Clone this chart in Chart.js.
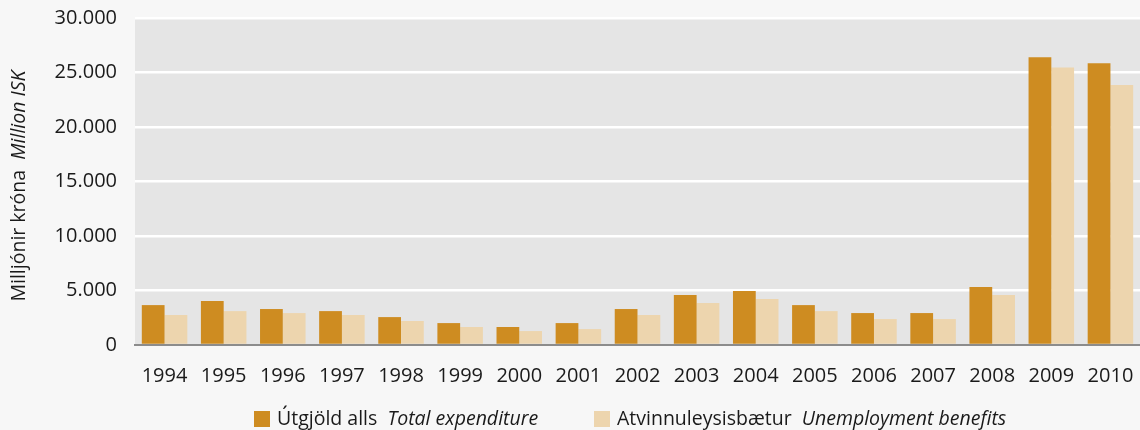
<!DOCTYPE html>
<html>
<head>
<meta charset="utf-8">
<script src="https://cdn.jsdelivr.net/npm/chart.js@4"></script>
<style>
  html, body { margin: 0; padding: 0; background: #f7f7f7; }
  #wrap { width: 1140px; height: 430px; position: relative; }
</style>
</head>
<body>
<div id="wrap"><canvas id="chart" width="1140" height="430"></canvas></div>
<script>
// Chart data
const years = ["1994", "1995", "1996", "1997", "1998", "1999", "2000", "2001", "2002",
  "2003", "2004", "2005", "2006", "2007", "2008", "2009", "2010"];
const totalExpenditure = [3660, 4030, 3300, 3110, 2560, 2010, 1650, 2010, 3300,
  4580, 4950, 3660, 2930, 2930, 5310, 26400, 25850];
const unemploymentBenefits = [2750, 3110, 2930, 2750, 2200, 1650, 1280, 1460, 2750,
  3850, 4210, 3110, 2380, 2380, 4580, 25470, 23850];
const yTicks = [0, 5000, 10000, 15000, 20000, 25000, 30000];

const FONT = "'Open Sans', 'Noto Sans', sans-serif";
const DARK = "#ce8c21";
const LIGHT = "#edd5ae";
const TEXT = "#1a1a1a";

// Format numbers with a period as thousands separator
function fmt(v) {
  return String(v).replace(/\B(?=(\d{3})+(?!\d))/g, ".");
}

// Grey plot background behind the bars
const plotBackground = {
  id: "plotBackground",
  beforeDraw(chart) {
    const { ctx, chartArea: a } = chart;
    ctx.save();
    ctx.fillStyle = "#e5e5e5";
    ctx.fillRect(a.left, a.top, a.right - a.left, a.bottom - a.top);
    ctx.restore();
  }
};

// Draw text pieces with mixed regular / italic style
function drawParts(ctx, parts, x, y) {
  parts.forEach(p => {
    ctx.font = (p.italic ? "italic " : "") + "19.5px " + FONT;
    ctx.fillText(p.text, x, y);
    x += ctx.measureText(p.text).width;
  });
  return x;
}

function partsWidth(ctx, parts) {
  let w = 0;
  parts.forEach(p => {
    ctx.font = (p.italic ? "italic " : "") + "19.5px " + FONT;
    w += ctx.measureText(p.text).width;
  });
  return w;
}

// Y axis title and legend, both with regular + italic text
const extraText = {
  id: "extraText",
  afterDraw(chart) {
    const ctx = chart.ctx;
    ctx.save();
    ctx.fillStyle = TEXT;
    ctx.textBaseline = "middle";

    // rotated axis title
    const title = [{ text: "Milljónir króna  " }, { text: "Million ISK", italic: true }];
    const tw = partsWidth(ctx, title);
    ctx.translate(19, 186);
    ctx.rotate(-Math.PI / 2);
    drawParts(ctx, title, -tw / 2, 0);
    ctx.setTransform(1, 0, 0, 1, 0, 0);

    // legend
    const items = [
      { color: DARK, x: 254, parts: [{ text: "Útgjöld alls  " }, { text: "Total expenditure", italic: true }] },
      { color: LIGHT, x: 594, parts: [{ text: "Atvinnuleysisbætur  " }, { text: "Unemployment benefits", italic: true }] }
    ];
    items.forEach(it => {
      ctx.fillStyle = it.color;
      ctx.fillRect(it.x, 411, 16, 16);
      ctx.fillStyle = TEXT;
      drawParts(ctx, it.parts, it.x + 23, 419);
    });
    ctx.restore();
  }
};

new Chart(document.getElementById("chart"), {
  type: "bar",
  data: {
    labels: years,
    datasets: [
      {
        label: "Útgjöld alls Total expenditure",
        data: totalExpenditure,
        backgroundColor: DARK,
        barPercentage: 1.0,
        categoryPercentage: 0.77
      },
      {
        label: "Atvinnuleysisbætur Unemployment benefits",
        data: unemploymentBenefits,
        backgroundColor: LIGHT,
        barPercentage: 1.0,
        categoryPercentage: 0.77
      }
    ]
  },
  options: {
    responsive: false,
    animation: false,
    layout: { padding: { top: 18, right: 0, bottom: 0, left: 0 } },
    plugins: {
      legend: { display: false },
      tooltip: { enabled: false }
    },
    scales: {
      x: {
        grid: { display: false, drawTicks: false },
        border: { display: true, color: "#8c8c8c", width: 2 },
        ticks: { color: TEXT, font: { family: FONT, size: 20 }, padding: 19, maxRotation: 0 },
        afterFit: scale => {
          scale.height = 85;
          scale.paddingLeft = 0;
          scale.paddingRight = 0;
        }
      },
      y: {
        min: 0,
        max: 30000,
        afterBuildTicks: scale => { scale.ticks = yTicks.map(v => ({ value: v })); },
        grid: {
          drawTicks: false,
          color: ctx => (ctx.tick && ctx.tick.value === 0 ? "rgba(0,0,0,0)" : "#ffffff"),
          lineWidth: 2.5
        },
        border: { display: false },
        ticks: {
          color: TEXT,
          font: { family: FONT, size: 20 },
          padding: 18,
          callback: v => fmt(v)
        },
        afterFit: scale => {
          scale.width = 135;
          scale.paddingTop = 0;
          scale.paddingBottom = 0;
        }
      }
    }
  },
  plugins: [plotBackground, extraText]
});
</script>
</body>
</html>
